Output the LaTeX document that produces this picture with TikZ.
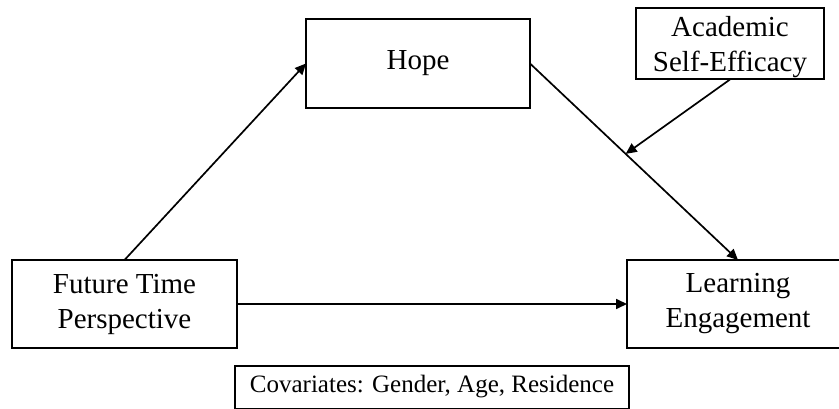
\documentclass[tikz,border=0pt]{standalone}
\usepackage{fontspec}
\setmainfont{Liberation Serif}
\usetikzlibrary{arrows.meta,calc}
\begin{document}
\begin{tikzpicture}[x=1pt,y=-1pt,
  box/.style={draw=black,line width=2pt,inner sep=0pt,outer sep=0pt,align=center,
    font=\fontsize{29}{35}\selectfont},
  conn/.style={line width=1.7pt,-{Triangle[length=11pt,width=10pt]}}]
\useasboundingbox (0,0) rectangle (839,409);
\node[box,minimum width=224pt,minimum height=89pt] (hope) at (418,63.5) {Hope};
\node[box,minimum width=188pt,minimum height=71pt] (ase) at (730,44) {};
\node[align=center,inner sep=0pt,font=\fontsize{29}{35}\selectfont] (asetext) at (730,47) {Academic\\Self-Efficacy};
\node[box,minimum width=225pt,minimum height=88pt] (ftp) at (124.5,304) {Future Time\\Perspective};
\node[box,minimum width=222pt,minimum height=88pt] (le) at (738,304) {Learning\\Engagement};
\node[box,minimum width=394pt,minimum height=43pt,font=\fontsize{25}{30}\selectfont] (cov) at (432,387) {Covariates: Gender, Age, Residence};
\draw[conn] (ftp.north) -- (hope.west);
\draw[conn] (hope.east) -- (le.north);
\coordinate (mod) at ($(hope.east)!0.46!(le.north)$);
\draw[conn] (ase.south) -- (mod);
\draw[conn] (ftp.east) -- (le.west);
\end{tikzpicture}
\end{document}
